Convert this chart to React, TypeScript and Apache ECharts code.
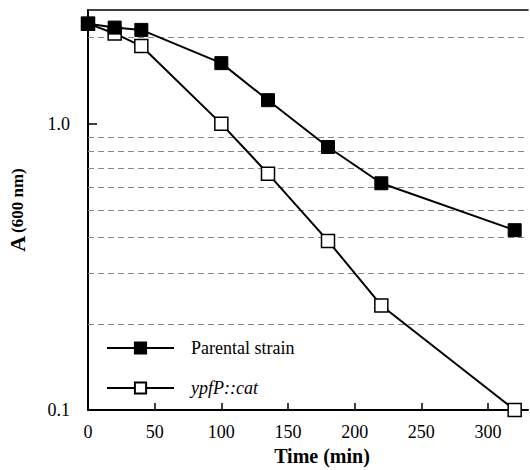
import React, { useEffect, useRef } from "react";
import * as echarts from "echarts";

const times = [0, 20, 40, 100, 135, 180, 220, 320];
const parental = [2.24, 2.17, 2.13, 1.63, 1.21, 0.83, 0.62, 0.425];
const ypfP = [2.24, 2.07, 1.87, 1.0, 0.67, 0.39, 0.232, 0.1];
const gridValues = [0.2, 0.3, 0.4, 0.5, 0.6, 0.7, 0.8, 0.9, 2];
const xTicks = [0, 50, 100, 150, 200, 250, 300];
const seriesNames = ["Parental strain", "ypfP::cat"];

const FONT = "Liberation Serif";

export default function App() {
  const ref = useRef<HTMLDivElement>(null);
  useEffect(() => {
    document.body.style.margin = "0";
    const chart = echarts.init(ref.current!, null, { renderer: "svg" });
    chart.setOption({
      animation: false,
      backgroundColor: "#fff",
      textStyle: { fontFamily: FONT, color: "#000" },
      grid: { left: 88, right: 2, top: 10, bottom: 60, containLabel: false, outerBoundsMode: "none" },
      legend: {
        data: seriesNames,
        orient: "vertical",
        left: 101,
        top: 334,
        itemWidth: 67,
        itemHeight: 14,
        itemGap: 22,
        textStyle: {
          fontFamily: FONT,
          fontSize: 18,
          color: "#000",
          padding: [0, 0, 0, 12],
          rich: { i: { fontStyle: "italic", fontFamily: FONT, fontSize: 18, color: "#000" } },
        },
        formatter: (n: string) => (n === seriesNames[1] ? "{i|" + n + "}" : n),
      },
      xAxis: [
        {
          type: "value",
          min: 0,
          max: 330,
          interval: 50,
          name: "Time (min)",
          nameLocation: "middle",
          nameGap: 36,
          nameTextStyle: { fontFamily: FONT, fontSize: 20, fontWeight: "bold", color: "#000", padding: [0, 0, 0, 28] },
          axisLine: { lineStyle: { color: "#000", width: 2 } },
          axisTick: { inside: true, length: 7, lineStyle: { color: "#000", width: 1.5 } },
          axisLabel: {
            fontFamily: FONT,
            fontSize: 18,
            color: "#000",
            margin: 13,
            showMaxLabel: false,
            formatter: (v: number) => (xTicks.includes(v) ? String(v) : ""),
          },
          splitLine: { show: false },
        },
        {
          type: "value",
          position: "top",
          min: 0,
          max: 330,
          axisLine: { show: true, lineStyle: { color: "#000", width: 1.5 } },
          axisTick: { show: false },
          axisLabel: { show: false },
          splitLine: { show: false },
        },
      ],
      yAxis: {
        type: "log",
        logBase: 10,
        min: 0.1,
        max: 2.5,
        name: "{a|A} {b|(600 nm)}",
        nameLocation: "middle",
        nameRotate: 90,
        nameGap: 60,
        nameTextStyle: {
          rich: {
            a: { fontFamily: FONT, fontSize: 22, fontWeight: "bold", color: "#000" },
            b: { fontFamily: FONT, fontSize: 17, fontWeight: "bold", color: "#000" },
          },
        },
        axisLine: { show: true, lineStyle: { color: "#000", width: 2 } },
        axisTick: { inside: true, length: 9, lineStyle: { color: "#000", width: 1.5 } },
        axisLabel: {
          fontFamily: FONT,
          fontSize: 18,
          color: "#000",
          margin: 18,
          showMaxLabel: false,
          formatter: (v: number) =>
            Math.abs(v - 1) < 1e-6 ? "1.0" : Math.abs(v - 0.1) < 1e-6 ? "0.1" : "",
        },
        splitLine: { show: false },
      },
      series: [
        {
          name: seriesNames[1],
          type: "line",
          data: times.map((t, i) => [t, ypfP[i]]),
          symbol: "rect",
          symbolSize: 13,
          clip: false,
          lineStyle: { color: "#000", width: 2 },
          itemStyle: { color: "#fff", borderColor: "#000", borderWidth: 1.5 },
          markLine: {
            silent: true,
            symbol: ["none", "none"],
            label: { show: false },
            lineStyle: { color: "#888", width: 1, type: [6, 4] },
            data: gridValues.map((v) => ({ yAxis: v })),
            z: 1,
          },
          z: 3,
        },
        {
          name: seriesNames[0],
          type: "line",
          data: times.map((t, i) => [t, parental[i]]),
          symbol: "rect",
          symbolSize: 13,
          clip: false,
          lineStyle: { color: "#000", width: 2 },
          itemStyle: { color: "#000", borderColor: "#000", borderWidth: 1 },
          z: 4,
        },
      ],
    });
    return () => chart.dispose();
  }, []);
  return <div ref={ref} style={{ width: 530, height: 470 }} />;
}
